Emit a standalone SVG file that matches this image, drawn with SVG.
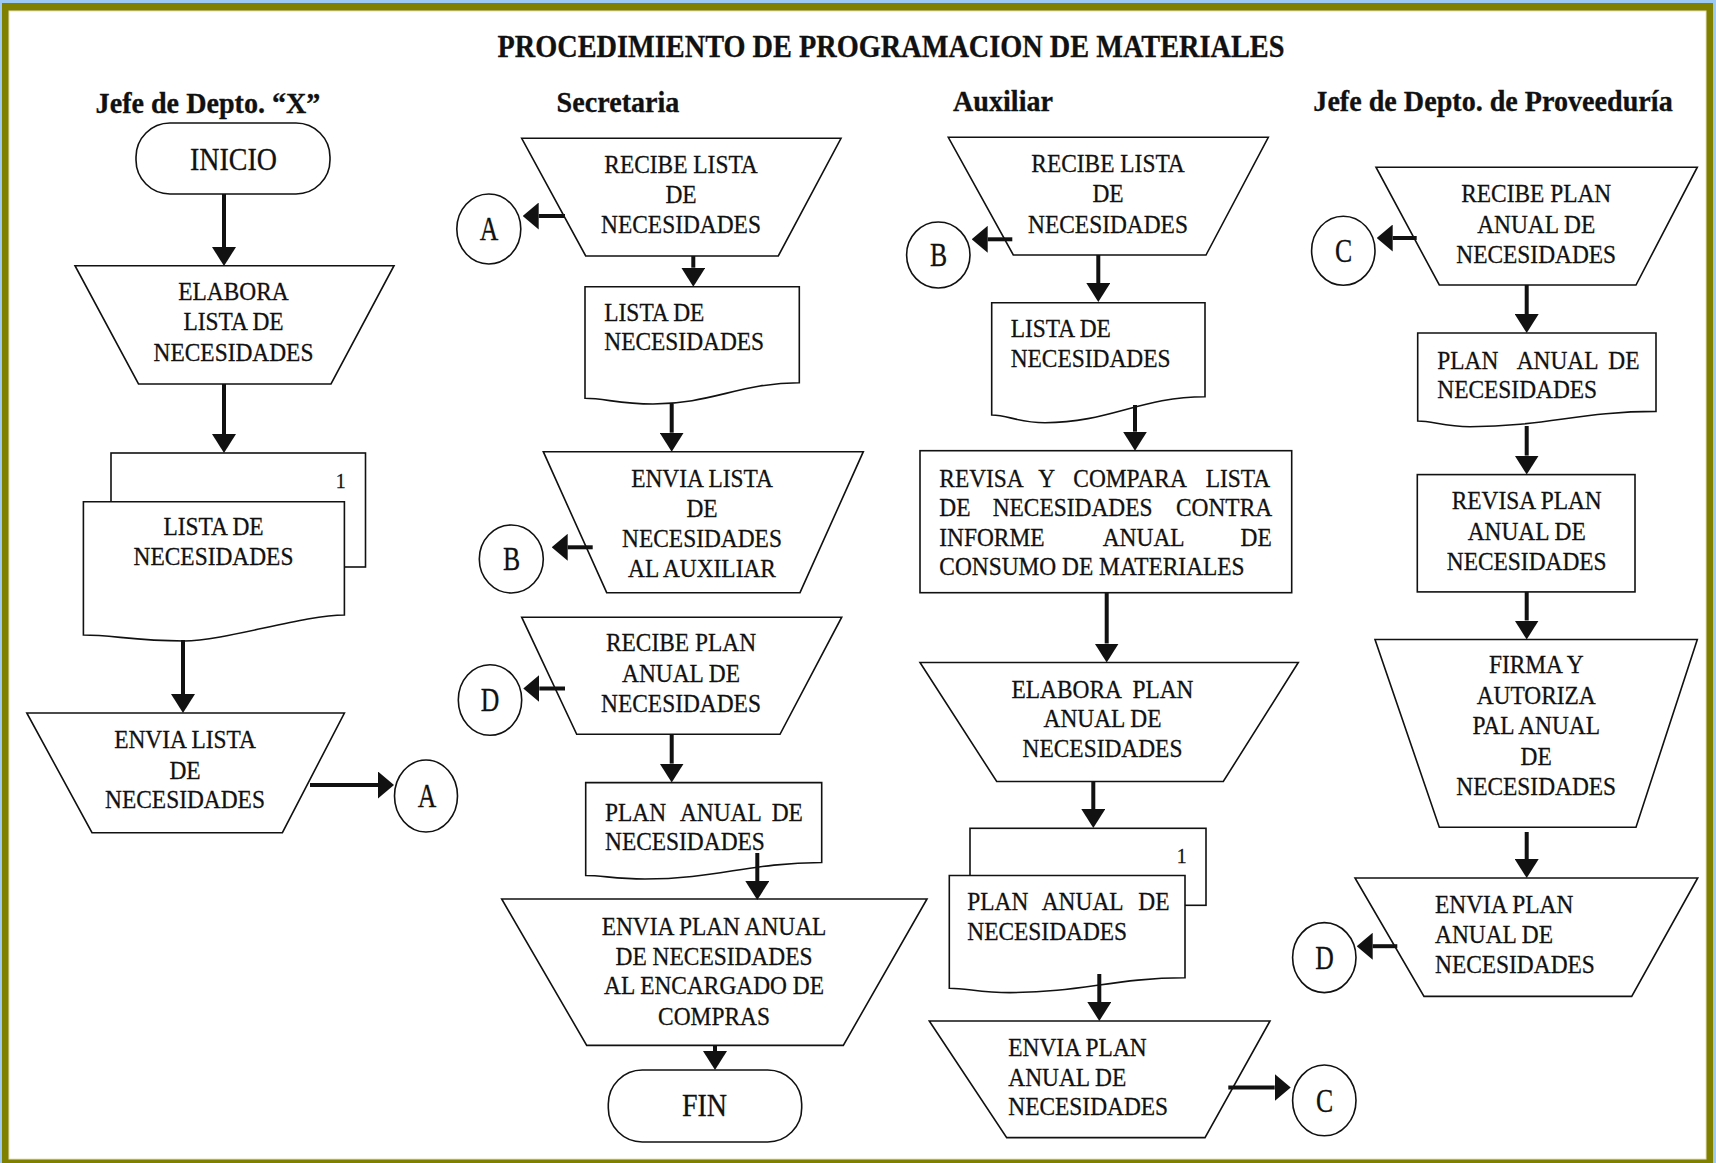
<svg xmlns="http://www.w3.org/2000/svg" width="1716" height="1163" viewBox="0 0 1716 1163">
  <style>
    .s { fill: #fff; stroke: #111; stroke-width: 1.6; }
    .tx { font-family: "Liberation Serif", "Times New Roman", serif; fill: #111; stroke: #111; stroke-width: 0.3; }
    .b { font-size: 26px; }
    .m { text-anchor: middle; }
    .hd { font-size: 29px; font-weight: bold; text-anchor: middle; }
    .ttl { font-size: 32px; font-weight: bold; text-anchor: middle; }
    .lt { font-size: 33px; text-anchor: middle; }
    .tm { font-size: 32px; text-anchor: middle; }
    .n1 { font-size: 22px; text-anchor: middle; }
    .cn path { fill: none; stroke: #111; stroke-width: 4; }
    .cn path.v { marker-end: url(#av); }
    .cn path.h { marker-end: url(#ah); }
  </style>
  <defs>
    <!-- arrowheads: base sits on the line end, tip points forward -->
    <marker id="av" markerUnits="userSpaceOnUse" viewBox="0 0 19 24" markerWidth="19" markerHeight="24" refX="0" refY="12" orient="auto">
      <path d="M0,0 L19,12 L0,24 Z" fill="#111"/>
    </marker>
    <marker id="ah" markerUnits="userSpaceOnUse" viewBox="0 0 16 27" markerWidth="16" markerHeight="27" refX="0" refY="13.5" orient="auto">
      <path d="M0,0 L16,13.5 L0,27 Z" fill="#111"/>
    </marker>
  </defs>

  <!-- page frame -->
  <rect x="0" y="0" width="1716" height="1163" fill="#9ccaf3"/>
  <rect x="2" y="3" width="1711" height="1162" fill="#808000"/>
  <rect x="9" y="11" width="1697" height="1148" fill="#fff" stroke="#e6e2c0" stroke-width="1"/>

  <!-- title and lane headers -->
  <g id="title">
    <text class="tx ttl" transform="translate(891 56.7) scale(.885 1)">PROCEDIMIENTO DE PROGRAMACION DE MATERIALES</text>
  </g>
  <g id="headers">
    <text class="tx hd" transform="translate(208 112.5) scale(.97 1)">Jefe de Depto. “X”</text>
    <text class="tx hd" transform="translate(618 112) scale(.97 1)">Secretaria</text>
    <text class="tx hd" transform="translate(1003 111) scale(.97 1)">Auxiliar</text>
    <text class="tx hd" transform="translate(1493 111) scale(.97 1)">Jefe de Depto. de Proveeduría</text>
  </g>

  <!-- ===== Jefe de Depto. "X" ===== -->
  <g id="inicio">
    <rect class="s" x="136" y="123" width="194" height="71" rx="34" ry="34"/>
    <text class="tx tm" transform="translate(233.5 170) scale(.875 1)">INICIO</text>
  </g>
  <g id="elabora-lista">
    <polygon class="s" points="75,265.7 394,265.7 331,384 138.5,384"/>
    <text class="tx b m" transform="translate(233.5 300) scale(.9 1)"><tspan x="0" y="0">ELABORA</tspan><tspan x="0" y="30">LISTA DE</tspan><tspan x="0" y="60.7">NECESIDADES</tspan></text>
  </g>
  <g id="doc-lista-x">
    <rect class="s" x="111" y="453" width="254.5" height="114"/>
    <text class="tx n1" transform="translate(340.6 488) scale(.9 1)">1</text>
    <path class="s" d="M83.4,501.7 H344.4 V615 C304,615 224,641 184,641 C134,641 113,635 83.4,635 Z"/>
    <text class="tx b m" transform="translate(213.5 535) scale(.9 1)"><tspan x="0" y="0">LISTA DE</tspan><tspan x="0" y="30">NECESIDADES</tspan></text>
  </g>
  <g id="envia-lista-x">
    <polygon class="s" points="26.8,713 344.4,713 282.4,832.7 92,832.7"/>
    <text class="tx b m" transform="translate(185 748) scale(.9 1)"><tspan x="0" y="0">ENVIA LISTA</tspan><tspan x="0" y="31">DE</tspan><tspan x="0" y="60">NECESIDADES</tspan></text>
  </g>
  <g id="conn-a-out">
    <ellipse class="s" cx="426" cy="796" rx="31.5" ry="36"/>
    <text class="tx lt" transform="translate(427 807) scale(.78 1)">A</text>
  </g>

  <!-- ===== Secretaria ===== -->
  <g id="recibe-lista-sec">
    <polygon class="s" points="521.7,138.3 841,138.3 778.3,256 585.7,256"/>
    <text class="tx b m" transform="translate(681 172.7) scale(.9 1)"><tspan x="0" y="0">RECIBE LISTA</tspan><tspan x="0" y="30.6">DE</tspan><tspan x="0" y="60.6">NECESIDADES</tspan></text>
  </g>
  <g id="conn-a-in">
    <ellipse class="s" cx="488.8" cy="229" rx="32" ry="35"/>
    <text class="tx lt" transform="translate(489 240) scale(.78 1)">A</text>
  </g>
  <g id="doc-lista-sec">
    <path class="s" d="M585,286.7 H799.3 V382.7 C741,382.7 711,404 653,404 C619,404 605,398.3 585,398.3 Z"/>
    <text class="tx b" transform="translate(604.3 320.7) scale(.9 1)"><tspan x="0" y="0">LISTA DE</tspan><tspan x="0" y="29.3">NECESIDADES</tspan></text>
  </g>
  <g id="envia-lista-sec">
    <polygon class="s" points="543.3,451.7 863.3,451.7 800,592.7 606.7,592.7"/>
    <text class="tx b m" transform="translate(702 486.7) scale(.9 1)"><tspan x="0" y="0">ENVIA LISTA</tspan><tspan x="0" y="30">DE</tspan><tspan x="0" y="60">NECESIDADES</tspan><tspan x="0" y="90">AL AUXILIAR</tspan></text>
  </g>
  <g id="conn-b-out">
    <ellipse class="s" cx="511.3" cy="559" rx="32" ry="34"/>
    <text class="tx lt" transform="translate(511.5 570) scale(.78 1)">B</text>
  </g>
  <g id="recibe-plan-sec">
    <polygon class="s" points="521.7,617.2 841.7,617.2 780,734.3 576.7,734.3"/>
    <text class="tx b m" transform="translate(681 651.4) scale(.9 1)"><tspan x="0" y="0">RECIBE PLAN</tspan><tspan x="0" y="30.8">ANUAL DE</tspan><tspan x="0" y="60.6">NECESIDADES</tspan></text>
  </g>
  <g id="conn-d-in">
    <ellipse class="s" cx="490" cy="700" rx="31.7" ry="35.3"/>
    <text class="tx lt" transform="translate(490 711) scale(.78 1)">D</text>
  </g>
  <g id="doc-plan-sec">
    <path class="s" d="M585.7,782.6 H821.7 V862.5 C751,862.5 715,879 645,879 C615,879 603,875.5 585.7,875.5 Z"/>
    <text class="tx b" transform="translate(605 821) scale(.9 1)"><tspan x="0">PLAN</tspan><tspan x="83.3">ANUAL</tspan><tspan x="185.2">DE</tspan></text>
    <text class="tx b" transform="translate(605 849.5) scale(.9 1)">NECESIDADES</text>
  </g>
  <g id="envia-plan-sec">
    <polygon class="s" points="501.7,899 927,899 843.3,1045.4 586.7,1045.4"/>
    <text class="tx b m" transform="translate(714 935) scale(.9 1)"><tspan x="0" y="0">ENVIA PLAN ANUAL</tspan><tspan x="0" y="29.8">DE NECESIDADES</tspan><tspan x="0" y="59.5">AL ENCARGADO DE</tspan><tspan x="0" y="90.4">COMPRAS</tspan></text>
  </g>
  <g id="fin">
    <rect class="s" x="608.3" y="1070" width="193.4" height="72" rx="34" ry="34"/>
    <text class="tx tm" transform="translate(704.5 1116) scale(.875 1)">FIN</text>
  </g>

  <!-- ===== Auxiliar ===== -->
  <g id="recibe-lista-aux">
    <polygon class="s" points="948.3,137.3 1268.3,137.3 1206,255 1013.3,255"/>
    <text class="tx b m" transform="translate(1108 171.7) scale(.9 1)"><tspan x="0" y="0">RECIBE LISTA</tspan><tspan x="0" y="30">DE</tspan><tspan x="0" y="61">NECESIDADES</tspan></text>
  </g>
  <g id="conn-b-in">
    <ellipse class="s" cx="938.3" cy="255" rx="31.7" ry="33"/>
    <text class="tx lt" transform="translate(938.5 266) scale(.78 1)">B</text>
  </g>
  <g id="doc-lista-aux">
    <path class="s" d="M991.7,302.7 H1205 V396.7 C1141,396.7 1109,422.7 1045,422.7 C1018,422.7 1008,415 991.7,415 Z"/>
    <text class="tx b" transform="translate(1010.7 337.3) scale(.9 1)"><tspan x="0" y="0">LISTA DE</tspan><tspan x="0" y="29.4">NECESIDADES</tspan></text>
  </g>
  <g id="revisa-compara">
    <rect class="s" x="920" y="450.7" width="371.7" height="142"/>
    <text class="tx b" transform="translate(939.3 486.7) scale(.9 1)"><tspan x="0">REVISA</tspan><tspan x="110">Y</tspan><tspan x="148.9">COMPARA</tspan><tspan x="296">LISTA</tspan></text>
    <text class="tx b" transform="translate(939.3 516.3) scale(.9 1)"><tspan x="0">DE</tspan><tspan x="59.3">NECESIDADES</tspan><tspan x="263">CONTRA</tspan></text>
    <text class="tx b" transform="translate(939.3 546) scale(.9 1)"><tspan x="0">INFORME</tspan><tspan x="181.6">ANUAL</tspan><tspan x="334.7">DE</tspan></text>
    <text class="tx b" transform="translate(939.3 575.3) scale(.9 1)">CONSUMO DE MATERIALES</text>
  </g>
  <g id="elabora-plan">
    <polygon class="s" points="920,662.5 1298.3,662.5 1223.3,781.5 996.7,781.5"/>
    <text class="tx b m" transform="translate(1102.5 698.2) scale(.9 1)"><tspan x="0" y="0" xml:space="preserve">ELABORA  PLAN</tspan><tspan x="0" y="28.6">ANUAL DE</tspan><tspan x="0" y="58.4">NECESIDADES</tspan></text>
  </g>
  <g id="doc-plan-aux">
    <rect class="s" x="970" y="828.3" width="236" height="77"/>
    <text class="tx n1" transform="translate(1181.7 862.5) scale(.9 1)">1</text>
    <path class="s" d="M949.3,875.5 H1185 V977.8 C1115,977.8 1080,992.6 1010,992.6 C980,992.6 967,988.2 949.3,988.2 Z"/>
    <text class="tx b" transform="translate(967.3 910) scale(.9 1)"><tspan x="0">PLAN</tspan><tspan x="82.7">ANUAL</tspan><tspan x="190">DE</tspan></text>
    <text class="tx b" transform="translate(967.3 939.9) scale(.9 1)">NECESIDADES</text>
  </g>
  <g id="envia-plan-aux">
    <polygon class="s" points="929.3,1021 1270,1021 1205,1137.6 1006.7,1137.6"/>
    <text class="tx b" transform="translate(1008.3 1055.8) scale(.9 1)"><tspan x="0" y="0">ENVIA PLAN</tspan><tspan x="0" y="30.5">ANUAL DE</tspan><tspan x="0" y="59.5">NECESIDADES</tspan></text>
  </g>
  <g id="conn-c-out">
    <ellipse class="s" cx="1324.3" cy="1100.4" rx="31.7" ry="35.4"/>
    <text class="tx lt" transform="translate(1324.5 1111.5) scale(.78 1)">C</text>
  </g>

  <!-- ===== Jefe de Depto. de Proveeduria ===== -->
  <g id="recibe-plan-prov">
    <polygon class="s" points="1376,167.2 1697.3,167.2 1636,285 1439.3,285"/>
    <text class="tx b m" transform="translate(1536.2 201.7) scale(.9 1)"><tspan x="0" y="0">RECIBE PLAN</tspan><tspan x="0" y="31">ANUAL DE</tspan><tspan x="0" y="61.6">NECESIDADES</tspan></text>
  </g>
  <g id="conn-c-in">
    <ellipse class="s" cx="1343.3" cy="250.7" rx="31.7" ry="34.5"/>
    <text class="tx lt" transform="translate(1343.5 262) scale(.78 1)">C</text>
  </g>
  <g id="doc-plan-prov">
    <path class="s" d="M1417.7,333 H1656 V411.4 C1581,411.4 1545,426.7 1470,426.7 C1444,426.7 1433,421 1417.7,421 Z"/>
    <text class="tx b" transform="translate(1437.3 369.3) scale(.9 1)"><tspan x="0">PLAN</tspan><tspan x="88.2">ANUAL</tspan><tspan x="190">DE</tspan></text>
    <text class="tx b" transform="translate(1437.3 398) scale(.9 1)">NECESIDADES</text>
  </g>
  <g id="revisa-plan">
    <rect class="s" x="1417.3" y="474.6" width="217.7" height="117.3"/>
    <text class="tx b m" transform="translate(1526.7 509) scale(.9 1)"><tspan x="0" y="0">REVISA PLAN</tspan><tspan x="0" y="30.6">ANUAL DE</tspan><tspan x="0" y="61.2">NECESIDADES</tspan></text>
  </g>
  <g id="firma-autoriza">
    <polygon class="s" points="1375,639.5 1697.3,639.5 1636,827.2 1439.3,827.2"/>
    <text class="tx b m" transform="translate(1536.2 673) scale(.9 1)"><tspan x="0" y="0">FIRMA Y</tspan><tspan x="0" y="30.8">AUTORIZA</tspan><tspan x="0" y="61.3">PAL ANUAL</tspan><tspan x="0" y="91.8">DE</tspan><tspan x="0" y="121.9">NECESIDADES</tspan></text>
  </g>
  <g id="envia-plan-prov">
    <polygon class="s" points="1355,878 1697.7,878 1631.7,996.4 1424,996.4"/>
    <text class="tx b" transform="translate(1435 912.7) scale(.9 1)"><tspan x="0" y="0">ENVIA PLAN</tspan><tspan x="0" y="30.5">ANUAL DE</tspan><tspan x="0" y="60.6">NECESIDADES</tspan></text>
  </g>
  <g id="conn-d-out">
    <ellipse class="s" cx="1324.3" cy="957.6" rx="31.7" ry="35"/>
    <text class="tx lt" transform="translate(1324.5 968.5) scale(.78 1)">D</text>
  </g>

  <!-- flow connectors -->
  <g id="connectors" class="cn">
    <path class="v" d="M224,194 V247"/>
    <path class="v" d="M224,384 V434"/>
    <path class="v" d="M183,640 V694"/>
    <path class="h" d="M310,785 H378"/>
    <path class="h" d="M565,216 H538.7"/>
    <path class="v" d="M693.3,256 V267.7"/>
    <path class="v" d="M671.7,404 V432.7"/>
    <path class="h" d="M592.7,547.3 H567.7"/>
    <path class="h" d="M565,688.5 H539.3"/>
    <path class="v" d="M671.7,734.3 V763.6"/>
    <path class="v" d="M757.3,853 V881"/>
    <path class="v" d="M715,1045.4 V1051"/>
    <path class="h" d="M1012.3,239.3 H987.7"/>
    <path class="v" d="M1098.3,255 V283"/>
    <path class="v" d="M1135,405 V431.7"/>
    <path class="v" d="M1106.7,592.7 V643.5"/>
    <path class="v" d="M1093.3,781.5 V809"/>
    <path class="v" d="M1099.3,974 V1002"/>
    <path class="h" d="M1228.3,1087.4 H1274.7"/>
    <path class="h" d="M1416.7,238 H1392.7"/>
    <path class="v" d="M1526.7,285 V314"/>
    <path class="v" d="M1526.7,426 V455.6"/>
    <path class="v" d="M1526.7,592 V620.5"/>
    <path class="v" d="M1526.7,832 V859"/>
    <path class="h" d="M1397.3,946.2 H1372.7"/>
  </g>
</svg>
